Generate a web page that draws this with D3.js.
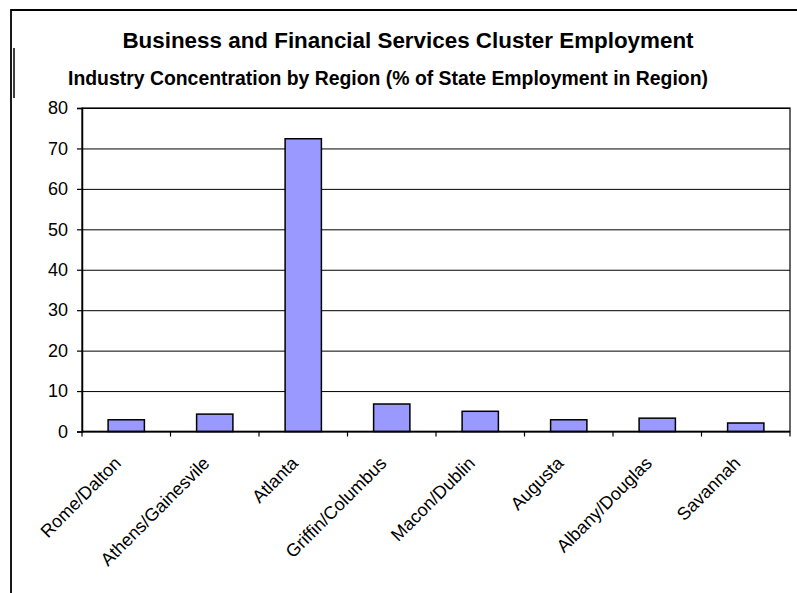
<!DOCTYPE html>
<html>
<head>
<meta charset="utf-8">
<script src="https://cdn.jsdelivr.net/npm/d3@7"></script>
<style>
  body { margin: 0; background: #fff; }
  svg { display: block; font-family: Arial, "Liberation Sans", sans-serif; }
</style>
</head>
<body>
<svg id="chart" width="797" height="593"></svg>
<script>
// data
var regions = ["Rome/Dalton", "Athens/Gainesvile", "Atlanta", "Griffin/Columbus",
               "Macon/Dublin", "Augusta", "Albany/Douglas", "Savannah"];
var shares = [2.9, 4.3, 72.4, 6.8, 5.0, 2.9, 3.3, 2.1];
var yTicks = [0, 10, 20, 30, 40, 50, 60, 70, 80];

var svg = d3.select("#chart");
var plotL = 82, plotR = 790, plotT = 108, plotB = 431.5;

var x = d3.scaleBand().domain(regions).range([plotL, plotR]).padding(0);
var y = d3.scaleLinear().domain([0, 80]).range([plotB, plotT]);

// outer frame (only top and left show in the picture)
svg.append("path")
  .attr("d", "M11,593 L11,10 L797,10")
  .attr("fill", "none")
  .attr("stroke", "#000")
  .attr("stroke-width", 1.8);
svg.append("line")
  .attr("x1", 14).attr("x2", 14).attr("y1", 48).attr("y2", 98)
  .attr("stroke", "#000").attr("stroke-width", 1.5);

// titles
svg.append("text")
  .attr("x", 408).attr("y", 48)
  .attr("text-anchor", "middle")
  .attr("font-weight", "bold")
  .attr("font-size", 22.4)
  .text("Business and Financial Services Cluster Employment");
svg.append("text")
  .attr("x", 388).attr("y", 85)
  .attr("text-anchor", "middle")
  .attr("font-weight", "bold")
  .attr("font-size", 19.4)
  .text("Industry Concentration by Region (% of State Employment in Region)");

// gridlines
svg.append("g")
  .attr("transform", "translate(" + plotL + ",0)")
  .call(d3.axisLeft(y).tickValues(yTicks).tickSize(-(plotR - plotL)).tickFormat(""))
  .call(function (g) { g.select(".domain").remove(); })
  .selectAll("line")
  .attr("stroke", "#000")
  .attr("stroke-width", 1);

// plot area box
svg.append("rect")
  .attr("x", plotL).attr("y", plotT)
  .attr("width", plotR - plotL).attr("height", plotB - plotT)
  .attr("fill", "none").attr("stroke", "#000").attr("stroke-width", 1.2);

// bars
var bw = x.bandwidth() * 0.41;
svg.append("g").selectAll("rect")
  .data(regions)
  .join("rect")
  .attr("x", function (d) { return x(d) + (x.bandwidth() - bw) / 2; })
  .attr("y", function (d, i) { return y(shares[i]); })
  .attr("width", bw)
  .attr("height", function (d, i) { return plotB - y(shares[i]); })
  .attr("fill", "#9999ff")
  .attr("stroke", "#000")
  .attr("stroke-width", 1.5);

// y axis
var yAxis = svg.append("g")
  .attr("transform", "translate(" + plotL + ",0)")
  .call(d3.axisLeft(y).tickValues(yTicks).tickSize(5).tickPadding(9));
yAxis.select(".domain").attr("stroke", "#000").attr("stroke-width", 1.5);
yAxis.selectAll("line").attr("stroke", "#000").attr("stroke-width", 1.2);
yAxis.selectAll("text").attr("font-size", 18).attr("fill", "#000")
  .attr("font-family", "Arial, 'Liberation Sans', sans-serif");

// x axis line and boundary ticks
svg.append("line")
  .attr("x1", plotL).attr("x2", plotR).attr("y1", plotB).attr("y2", plotB)
  .attr("stroke", "#000").attr("stroke-width", 1.5);
var bounds = regions.map(function (d) { return x(d); }).concat([plotR]);
svg.append("g").selectAll("line")
  .data(bounds)
  .join("line")
  .attr("x1", function (d) { return d; }).attr("x2", function (d) { return d; })
  .attr("y1", plotB).attr("y2", plotB + 5)
  .attr("stroke", "#000").attr("stroke-width", 1.2);

// rotated category labels
svg.append("g").selectAll("text")
  .data(regions)
  .join("text")
  .attr("transform", function (d) {
    return "translate(" + (x(d) + x.bandwidth() / 2 - 13) + "," + (plotB + 24) + ") rotate(-45)";
  })
  .attr("text-anchor", "end")
  .attr("dy", "0.7em")
  .attr("font-size", 18)
  .text(function (d) { return d; });
</script>
</body>
</html>
